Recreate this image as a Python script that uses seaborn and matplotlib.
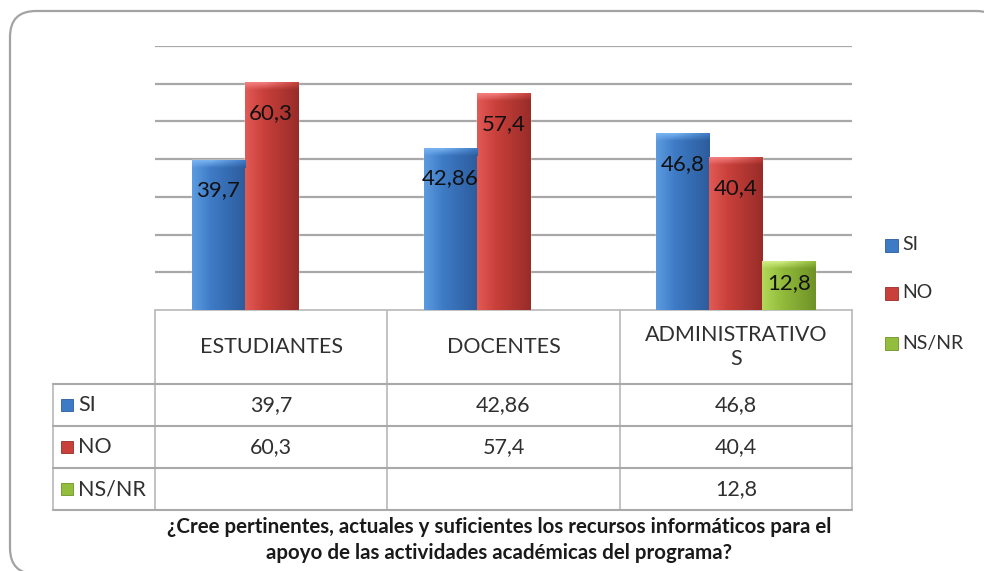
import numpy as np
import pandas as pd
import seaborn as sns
import matplotlib.pyplot as plt
from matplotlib.patches import FancyBboxPatch, Rectangle

# datos
grupos = ["ESTUDIANTES", "DOCENTES", "ADMINISTRATIVOS"]
encabezados = ["ESTUDIANTES", "DOCENTES", "ADMINISTRATIVO\nS"]
respuestas = ["SI", "NO", "NS/NR"]
si = [39.7, 42.86, 46.8]
no = [60.3, 57.4, 40.4]
nsnr = [np.nan, np.nan, 12.8]
titulo = ("¿Cree pertinentes, actuales y suficientes los recursos informáticos para el\n"
          "apoyo de las actividades académicas del programa?")

# colores (claro, base, oscuro, bisel)
colores = {
    "SI": ["#5d9be0", "#3e7bc6", "#2c5c9c", "#79b4f2"],
    "NO": ["#e25a55", "#c9403b", "#982c28", "#f48080"],
    "NS/NR": ["#b2d85a", "#93bd3c", "#6f9226", "#d2ee86"],
}

df = pd.DataFrame({
    "grupo": grupos * 3,
    "respuesta": np.repeat(respuestas, 3),
    "valor": si + no + nsnr,
})

sns.set_theme(style="white")
plt.rcParams["font.family"] = ["Lato", "DejaVu Sans"]

W, H = 984, 571
fig = plt.figure(figsize=(W / 100, H / 100), dpi=100)

# capa de fondo en pixeles: borde, tabla, leyenda, titulo
bg = fig.add_axes([0, 0, 1, 1])
bg.set_xlim(0, W)
bg.set_ylim(H, 0)
bg.axis("off")

# el marco redondeado se sale por la derecha y por abajo
marco = FancyBboxPatch((10, 11), 992, 563, boxstyle="round,pad=0,rounding_size=26",
                       fc="white", ec="#a3a3a3", lw=1.6)
bg.add_patch(marco)

# ejes de barras
x0, x1, ytop, ybase = 155, 852, 46, 310
ax = fig.add_axes([x0 / W, (H - ybase) / H, (x1 - x0) / W, (ybase - ytop) / H])
ax.patch.set_alpha(0)
sns.barplot(data=df, x="grupo", y="valor", hue="respuesta", order=grupos,
            hue_order=respuestas, palette={k: v[1] for k, v in colores.items()},
            width=0.685, saturation=1, legend=False, ax=ax, zorder=3)
ax.set_ylim(0, 70)
ax.set_xlim(-0.5, 2.5)
ax.set_yticks(range(10, 71, 10))
ax.yaxis.grid(True, color="#a8a8a8", lw=1.6)
ax.set_axisbelow(True)
ax.tick_params(left=False, bottom=False, labelleft=False, labelbottom=False)
ax.set_xlabel("")
ax.set_ylabel("")
for s in ax.spines.values():
    s.set_visible(False)


def degradado(c1, c2, c3, n=64):
    a = np.array(plt.matplotlib.colors.to_rgb(c1))
    b = np.array(plt.matplotlib.colors.to_rgb(c2))
    c = np.array(plt.matplotlib.colors.to_rgb(c3))
    t = np.linspace(0, 1, n)[:, None]
    izq = a + (b - a) * np.clip(t / 0.35, 0, 1)
    der = b + (c - b) * np.clip((t - 0.35) / 0.65, 0, 1)
    return np.where(t < 0.35, izq, der)


for resp, cont in zip(respuestas, ax.containers):
    claro, base, oscuro, bisel = colores[resp]
    for bar in cont:
        h = bar.get_height()
        if not np.isfinite(h) or h <= 0:
            continue
        bx, bw = bar.get_x(), bar.get_width()
        img = degradado(claro, base, oscuro)[None, :, :]
        im = ax.imshow(img, extent=[bx, bx + bw, 0, h], aspect="auto",
                       interpolation="bilinear", zorder=4)
        im.set_clip_path(bar)
        top = degradado(bisel, bisel, base)[None, :, :]
        t = np.linspace(1, 0, 16)[:, None, None]
        capa = top * t + img * (1 - t)
        ax.imshow(capa, extent=[bx, bx + bw, h - 2.0, h], aspect="auto",
                  interpolation="bilinear", zorder=5)
        off = 8 if h > 20 else 5.6
        ax.text(bx + bw / 2, h - off, f"{h:g}".replace(".", ","), ha="center",
                va="center", fontsize=16, color="#111111", zorder=6)

ax.set_xlim(-0.5, 2.5)
ax.set_ylim(0, 70)

# tabla de datos
lc = "#bdbdbd"
cols_x = [155, 387, 620, 852]
filas_y = [384, 426, 468, 510]
bg.plot([155, 852], [310, 310], color=lc, lw=1.3)
for xv in cols_x:
    bg.plot([xv, xv], [310, 510], color=lc, lw=1.3)
bg.plot([53, 53], [384, 510], color=lc, lw=1.3)
for yv in filas_y:
    bg.plot([53, 852], [yv, yv], color="#a9a9a9", lw=1.5)

for i, enc in enumerate(encabezados):
    cx = (cols_x[i] + cols_x[i + 1]) / 2
    bg.text(cx, 347, enc, ha="center", va="center", fontsize=15.5,
            color="#303030", linespacing=1.3)

valores = [si, no, nsnr]
for j, resp in enumerate(respuestas):
    cy = (filas_y[j] + filas_y[j + 1]) / 2
    bg.add_patch(Rectangle((61, cy - 6), 12, 12, fc=colores[resp][1],
                           ec=colores[resp][2], lw=0.6))
    bg.text(78, cy, resp, ha="left", va="center", fontsize=15.5, color="#303030")
    for i in range(3):
        v = valores[j][i]
        if np.isfinite(v):
            cx = (cols_x[i] + cols_x[i + 1]) / 2
            bg.text(cx, cy, f"{v:g}".replace(".", ","), ha="center",
                    va="center", fontsize=15.5, color="#303030")

# leyenda
for resp, ly in zip(respuestas, [245, 293, 343]):
    bg.add_patch(Rectangle((885, ly - 6), 13, 13, fc=colores[resp][1],
                           ec=colores[resp][2], lw=0.6))
    bg.text(902, ly, resp, ha="left", va="center", fontsize=14, color="#303030")

bg.text(499, 540, titulo, ha="center", va="center", fontsize=14.8,
        fontweight="bold", color="#1a1a1a", linespacing=1.4)

fig.savefig("out.png", dpi=100)
